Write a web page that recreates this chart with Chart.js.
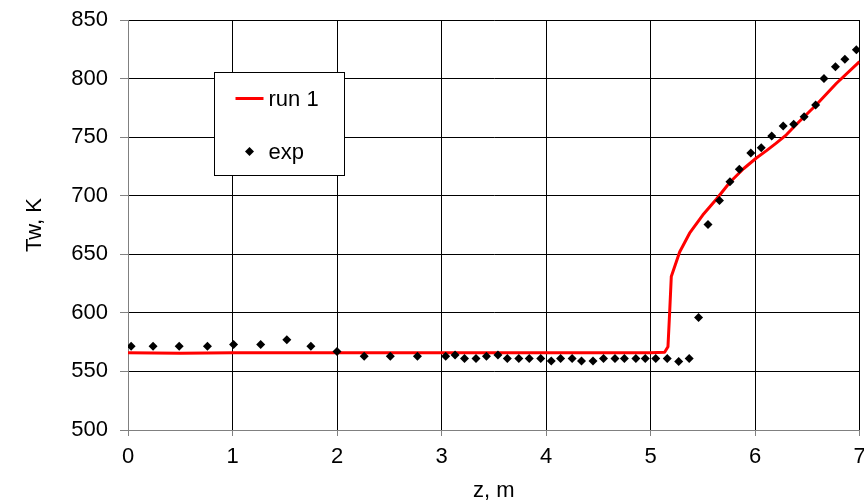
<!DOCTYPE html>
<html>
<head>
<meta charset="utf-8">
<script src="https://cdn.jsdelivr.net/npm/chart.js@4"></script>
<style>
  html, body { margin: 0; padding: 0; background: #fff; }
  #wrap { width: 864px; height: 504px; }
</style>
</head>
<body>
<div id="wrap"><canvas id="twChart" width="864" height="504"></canvas></div>
<script>
// measured wall temperature along the tube
const expZ = [0.03, 0.24, 0.49, 0.76, 1.01, 1.27, 1.52, 1.75, 2.00, 2.26, 2.51, 2.77,
              3.04, 3.13, 3.22, 3.33, 3.43, 3.54, 3.63, 3.74, 3.84, 3.95, 4.05, 4.14,
              4.25, 4.34, 4.45, 4.55, 4.66, 4.75, 4.86, 4.95, 5.05, 5.16, 5.27, 5.37,
              5.46, 5.55, 5.66, 5.76, 5.85, 5.96, 6.06, 6.16, 6.27, 6.37, 6.47, 6.58,
              6.66, 6.77, 6.86, 6.97];
const expT = [571.5, 571.5, 571.5, 571.5, 573, 573, 577, 571.5, 567, 563, 563, 563,
              563, 564, 561, 561, 563, 564, 561, 561, 561, 561, 559, 561,
              561, 559, 559, 561, 561, 561, 561, 561, 561, 561, 558.5, 561,
              596, 675.5, 696, 712, 722.5, 736.5, 741, 751, 759.5, 761, 767.5, 777.5,
              800, 810, 816.5, 824.5];

// calculated wall temperature, run 1
const runZ = [0, 0.5, 1, 2, 3, 4, 5, 5.135, 5.167, 5.183, 5.199, 5.279, 5.374, 5.50,
              5.63, 5.76, 5.89, 6.01, 6.11, 6.20, 6.30, 6.39, 6.585, 6.78, 7.0];
const runT = [566, 565.5, 566, 566, 566, 566, 566, 566.3, 571, 600, 631, 652, 668, 683.5,
              697, 711.5, 723, 732, 738.5, 744.7, 752, 760.4, 777.4, 796, 814.5];

const xTicks = [0, 1, 2, 3, 4, 5, 6, 7];
const yTicks = [500, 550, 600, 650, 700, 750, 800, 850];

const FONT = "'Liberation Sans', Arial, sans-serif";
const FONT_SIZE = 22;

const toPoints = (xs, ys) => xs.map((x, i) => ({ x, y: ys[i] }));

// framed legend sitting inside the plot, like the spreadsheet original
const boxLegend = {
    id: 'boxLegend',
    afterDraw(chart) {
        const { ctx, chartArea } = chart;
        const bx = chartArea.left + 86.5, by = chartArea.top + 52.5, bw = 130, bh = 103;
        ctx.save();
        ctx.fillStyle = '#fff';
        ctx.fillRect(bx, by, bw, bh);
        ctx.strokeStyle = '#000';
        ctx.lineWidth = 1;
        ctx.strokeRect(bx, by, bw, bh);

        ctx.font = `${FONT_SIZE}px ${FONT}`;
        ctx.textBaseline = 'middle';
        ctx.fillStyle = '#000';
        chart.data.datasets.forEach((ds, i) => {
            const cy = by + 26 + i * 53;
            if (ds.showLine) {
                ctx.strokeStyle = ds.borderColor;
                ctx.lineWidth = ds.borderWidth;
                ctx.beginPath();
                ctx.moveTo(bx + 21, cy);
                ctx.lineTo(bx + 49, cy);
                ctx.stroke();
            } else {
                Chart.helpers.drawPoint(ctx, {
                    pointStyle: ds.pointStyle, radius: ds.pointRadius, borderWidth: 0
                }, bx + 35, cy);
                ctx.fillStyle = '#000';
            }
            ctx.fillText(ds.label, bx + 54, cy + 1);
        });
        ctx.restore();
    }
};

new Chart(document.getElementById('twChart').getContext('2d'), {
    type: 'scatter',
    data: {
        datasets: [
            {
                label: 'run 1', data: toPoints(runZ, runT), showLine: true,
                borderColor: '#ff0000', borderWidth: 3, pointRadius: 0, tension: 0,
                borderJoinStyle: 'round', order: 2
            },
            {
                label: 'exp', data: toPoints(expZ, expT), showLine: false,
                pointStyle: 'rectRot', pointRadius: 4.5,
                backgroundColor: '#000', borderColor: '#000', borderWidth: 0,
                order: 1
            }
        ]
    },
    options: {
        responsive: false,
        animation: false,
        layout: { padding: { top: 20, right: 4, left: 0, bottom: 0 } },
        plugins: { legend: { display: false }, tooltip: { enabled: false } },
        scales: {
            x: {
                type: 'linear', min: 0, max: 7,
                afterBuildTicks: s => { s.ticks = xTicks.map(v => ({ value: v })); },
                afterFit: s => { s.height = 74; s.paddingLeft = 0; s.paddingRight = 0; },
                grid: { color: '#000', lineWidth: 1, tickLength: 6, tickColor: '#808080' },
                border: { color: '#808080' },
                ticks: { color: '#000', font: { family: FONT, size: FONT_SIZE }, padding: 8 },
                title: {
                    display: true, text: 'z, m', color: '#000',
                    font: { family: FONT, size: FONT_SIZE }, padding: { top: 0, bottom: 0 }
                }
            },
            y: {
                type: 'linear', min: 500, max: 850,
                afterBuildTicks: s => { s.ticks = yTicks.map(v => ({ value: v })); },
                afterFit: s => { s.width = 128; s.paddingTop = 0; s.paddingBottom = 0; },
                grid: { color: '#000', lineWidth: 1, tickLength: 8, tickColor: '#808080' },
                border: { color: '#808080' },
                ticks: { color: '#000', font: { family: FONT, size: FONT_SIZE }, padding: 12 },
                title: {
                    display: true, text: 'Tw, K', color: '#000',
                    font: { family: FONT, size: FONT_SIZE }, padding: { top: 22, bottom: 0 }
                }
            }
        }
    },
    plugins: [boxLegend]
});
</script>
</body>
</html>
